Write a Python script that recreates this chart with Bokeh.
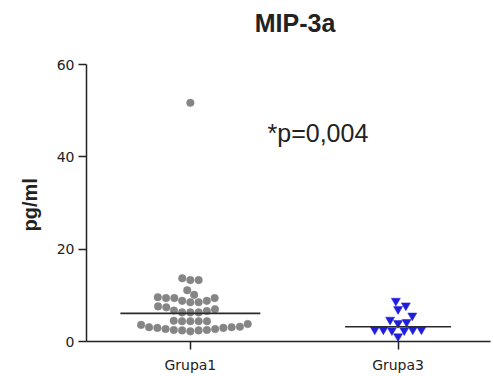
import math
from bokeh.plotting import figure
from bokeh.models import Label, FixedTicker, ColumnDataSource, Title
from bokeh.embed import file_html
from bokeh.resources import INLINE

# ---------------- data ----------------
categories = ["Grupa1", "Grupa3"]
grupa1 = [51.7,
          13.3, 13.3, 13.7,
          11.1,
          9.4, 9.4, 8.8, 8.5, 8.5, 8.8, 9.4, 9.6, 10.1,
          7.4, 6.7, 6.3, 6.3, 6.3, 6.6, 7.0, 7.6,
          4.4, 4.4, 4.4, 4.4, 4.5,
          3.6, 3.1, 2.95, 2.7, 2.5, 2.4, 2.2, 2.4, 2.5, 2.7, 2.95, 3.1, 3.2, 3.8]
grupa3 = [8.8, 7.8, 7.0, 5.6, 4.2, 4.0, 4.7,
          2.6, 2.6, 2.4, 2.4, 2.6, 2.6, 1.1]
medians = [6.1, 3.2]
y_ticks = [0, 20, 40, 60]
y_max = 60
title_text = "MIP-3a"
y_label = "pg/ml"
p_text = "*p=0,004"

# ---------------- layout ----------------
W, H = 492, 375
BL, BR, BB = 86, 2, 34
AXIS_TOP_PX = 64            # page y of the value 60
FRAME_BOTTOM = H - BB       # page y of the value 0
ypx = (FRAME_BOTTOM - AXIS_TOP_PX) / y_max
Y1 = FRAME_BOTTOM / ypx     # frame reaches the top of the canvas
X0, X1 = 0.5, 2.445
xpx = (W - BL - BR) / (X1 - X0)
TEXT_SHIFT = 9.5            # label anchor correction (px)

def px_to_x(px):
    return X0 + (px - BL) / xpx

def py_to_y(py):
    return (FRAME_BOTTOM - py) / ypx

def swarm(vals, d):
    """Greedy beeswarm in pixel space; returns x offsets in pixels."""
    order = sorted(range(len(vals)), key=lambda i: vals[i])
    placed = []
    xs = [0.0] * len(vals)
    for i in order:
        y = vals[i] * ypx
        cands = [0.0]
        for (px, py) in placed:
            dy = abs(y - py)
            if dy < d:
                dx = math.sqrt(d * d - dy * dy)
                cands += [px + dx, px - dx]
        cands.sort(key=abs)
        for c in cands:
            if all((c - px) ** 2 + (y - py) ** 2 >= d * d - 1e-6 for px, py in placed):
                xs[i] = c
                break
        placed.append((xs[i], y))
    return xs

p = figure(width=W, height=H, x_range=(X0, X1), y_range=(0, Y1),
           output_backend="svg", toolbar_location=None,
           min_border_left=BL, min_border_right=BR,
           min_border_top=0, min_border_bottom=BB)
p.outline_line_color = None
p.xgrid.visible = False
p.ygrid.visible = False
p.background_fill_color = "white"
p.border_fill_color = "white"

off1 = swarm(grupa1, 8.3)
off3 = swarm(grupa3, 8.6)
src1 = ColumnDataSource(dict(x=[1 + o / xpx for o in off1], y=grupa1))
src3 = ColumnDataSource(dict(x=[2 + o / xpx for o in off3], y=grupa3))

p.scatter("x", "y", source=src1, marker="circle", size=7.6,
          fill_color="#858585", line_color="#858585", line_width=0.5)
p.scatter("x", "y", source=src3, marker="inverted_triangle", size=9,
          fill_color="#1e1edc", line_color="#1e1edc", line_width=0.5)

half = [70 / xpx, 53 / xpx]
p.segment(x0=[1 - half[0], 2 - half[1]], x1=[1 + half[0], 2 + half[1]],
          y0=medians, y1=medians, line_color="#2a2a2a", line_width=1.6)

# axes
p.xaxis.ticker = FixedTicker(ticks=[1, 2])
p.xaxis.major_label_overrides = {1: categories[0], 2: categories[1]}
p.yaxis.ticker = FixedTicker(ticks=y_ticks)
p.yaxis.bounds = (0, y_max)
for ax in (p.xaxis, p.yaxis):
    ax.axis_line_color = "#222222"
    ax.axis_line_width = 1.5
    ax.major_tick_line_color = "#222222"
    ax.major_tick_line_width = 1.5
    ax.major_tick_in = 0
    ax.major_tick_out = 8
    ax.minor_tick_line_color = None
    ax.major_label_text_font = "DejaVu Sans"
    ax.major_label_text_font_size = "14px"
    ax.major_label_text_color = "#222222"
p.yaxis.major_label_standoff = 4
p.xaxis.major_label_standoff = 7

# y-axis title on the left side
p.add_layout(Title(text=y_label, align="left", offset=FRAME_BOTTOM - 231,
                   vertical_align="bottom", standoff=26,
                   text_font="Liberation Sans", text_font_style="bold",
                   text_font_size="20px", text_color="#222222"), "left")

# chart title and annotation (inside the frame)
p.add_layout(Label(x=px_to_x(294.5), y=py_to_y(31.7 - TEXT_SHIFT), text=title_text,
                   text_font="Liberation Sans", text_font_style="bold",
                   text_font_size="25px", text_align="center",
                   text_baseline="alphabetic", text_color="#222222"))
p.add_layout(Label(x=px_to_x(267), y=py_to_y(141.7 - TEXT_SHIFT), text=p_text,
                   text_font="Liberation Sans", text_font_size="25px",
                   text_align="left", text_baseline="alphabetic",
                   text_color="#222222"))

open("out.html", "w").write(file_html(p, INLINE))
